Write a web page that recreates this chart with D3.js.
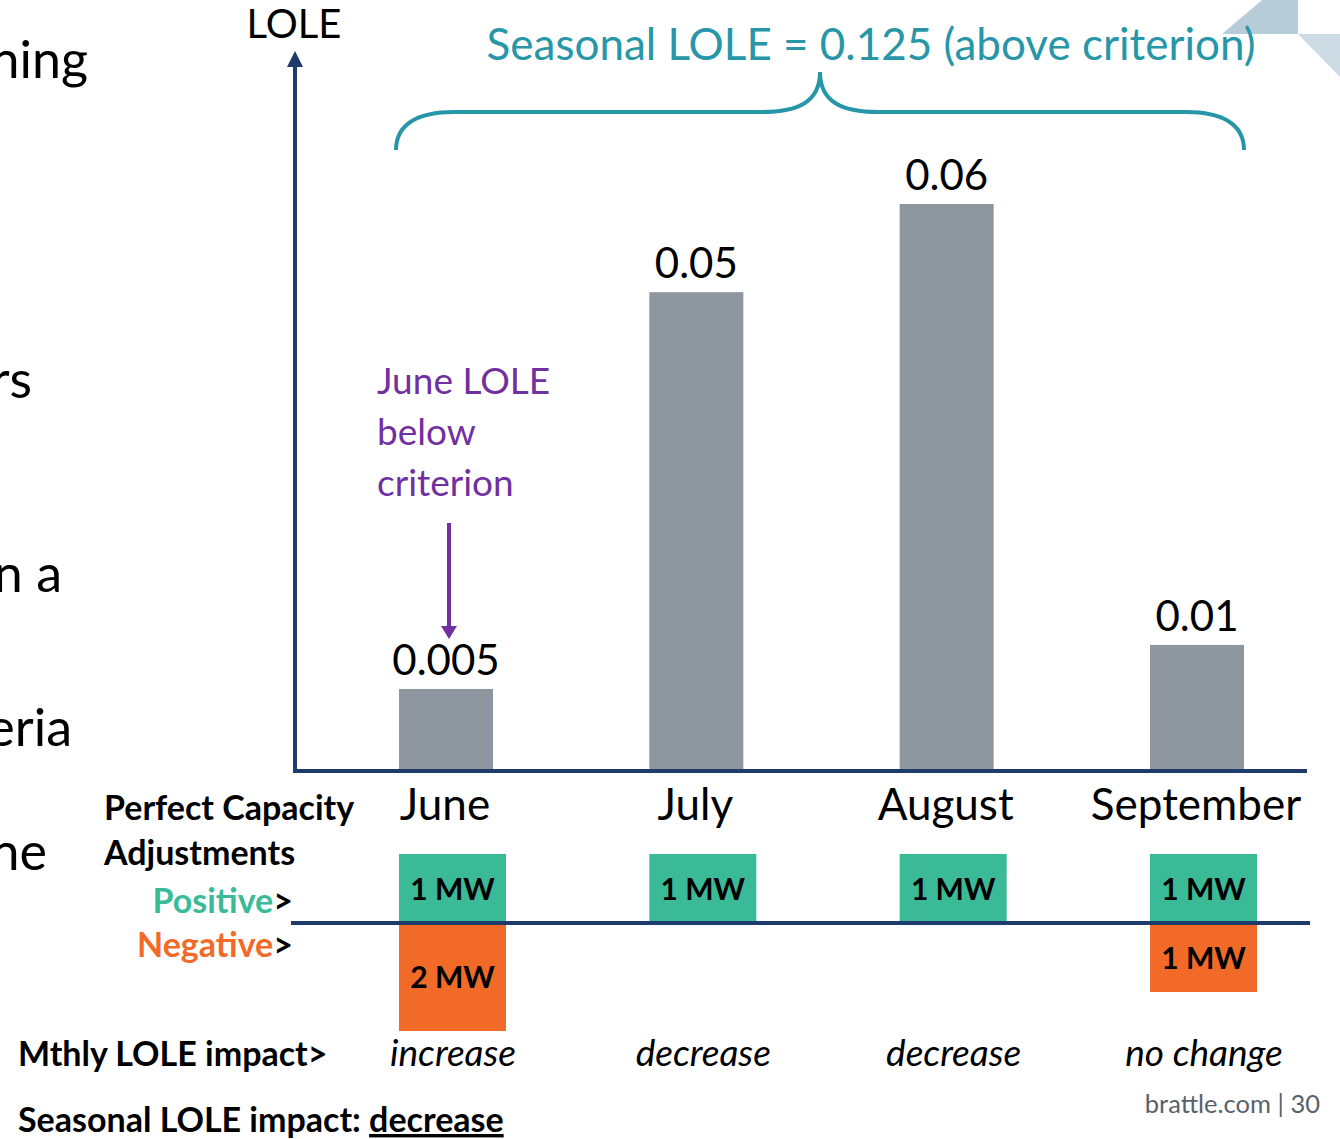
<!DOCTYPE html>
<html>
<head>
<meta charset="utf-8">
<script src="https://cdn.jsdelivr.net/npm/d3@7"></script>
<style>
  body { margin: 0; background: #fff; }
  svg { display: block; font-family: Lato, "Open Sans", sans-serif; }
</style>
</head>
<body>
<div id="chart-area"></div>
<script>
// chart values
const months = ["June", "July", "August", "September"];
const lole = [0.005, 0.05, 0.06, 0.01];
const positiveMW = [1, 1, 1, 1];
const negativeMW = [2, 0, 0, 1];
const impact = ["increase", "decrease", "decrease", "no change"];
const seasonalLOLE = 0.125;
const seasonalImpact = "decrease";

// slide text cut off at the left edge
const sideText = ["ning", "rs", "n a", "eria", "ne"];
const sideRight = [88, 32, 62, 72, 47];
const sideBase = [78, 398, 592, 746, 870];

const width = 1340, height = 1139;
const navy = "#1f3b6b", teal = "#2796a8", grey = "#8e969f",
    green = "#3bba97", orange = "#f26a28", purple = "#7030a0";

const svg = d3.select("#chart-area")
    .append("svg")
    .attr("width", width)
    .attr("height", height);

svg.append("rect").attr("width", width).attr("height", height).attr("fill", "#fff");

// decoration top right
svg.append("path").attr("d", "M1222,34 L1262,0 L1298,0 L1298,34 Z").attr("fill", "#b7ccd9");
svg.append("path").attr("d", "M1298,34 L1340,34 L1340,77 Z").attr("fill", "#cddbe5");

svg.selectAll("text.side")
    .data(sideText)
    .join("text")
    .attr("class", "side")
    .attr("x", (d, i) => sideRight[i])
    .attr("y", (d, i) => sideBase[i])
    .attr("text-anchor", "end")
    .attr("font-size", 52)
    .attr("fill", "#000")
    .text(d => d);

const baseY = 771;
const barW = 94;

const x = d3.scalePoint().domain(months).range([446, 1197]);
// schematic axis: bars are not quite proportional, fitted linear scale
const y = d3.scaleLinear().domain([-0.0043, 0.06]).range([baseY, 204]);
// MW boxes, illustrative height scale
const mw = d3.scaleLinear().domain([0, 2]).range([30, 108]);

const data = months.map((m, i) => ({month: m, lole: lole[i], pos: positiveMW[i], neg: negativeMW[i], impact: impact[i]}));

// bars
svg.append("g")
    .selectAll("rect")
    .data(data)
    .join("rect")
    .attr("x", d => x(d.month) - barW / 2)
    .attr("y", d => y(d.lole))
    .attr("width", barW)
    .attr("height", d => baseY - y(d.lole))
    .attr("fill", grey);

svg.append("g")
    .selectAll("text")
    .data(data)
    .join("text")
    .attr("x", d => x(d.month))
    .attr("y", d => y(d.lole) - 14)
    .attr("text-anchor", "middle")
    .attr("font-size", 42)
    .text(d => String(d.lole));

// axes
svg.append("line")
    .attr("x1", 293).attr("x2", 1307)
    .attr("y1", baseY).attr("y2", baseY)
    .attr("stroke", navy).attr("stroke-width", 4);
svg.append("line")
    .attr("x1", 295).attr("x2", 295)
    .attr("y1", baseY + 2).attr("y2", 62)
    .attr("stroke", navy).attr("stroke-width", 4);
svg.append("path")
    .attr("d", "M295,51 L303,67 L287,67 Z")
    .attr("fill", navy);
svg.append("text")
    .attr("x", 294).attr("y", 38)
    .attr("text-anchor", "middle")
    .attr("font-size", 40)
    .text("LOLE");

svg.append("g")
    .selectAll("text")
    .data(data)
    .join("text")
    .attr("x", d => x(d.month) - 1)
    .attr("y", 820)
    .attr("text-anchor", "middle")
    .attr("font-size", 44)
    .text(d => d.month);

// brace over all months
const L = x(months[0]) - barW / 2 - 3,
    R = x(months[months.length - 1]) + barW / 2,
    M = (L + R) / 2;
const bp = d3.path();
bp.moveTo(L, 150);
bp.bezierCurveTo(L, 124, L + 22, 112, L + 58, 112);
bp.lineTo(M - 58, 112);
bp.bezierCurveTo(M - 22, 112, M, 102, M, 72);
bp.bezierCurveTo(M, 102, M + 22, 112, M + 58, 112);
bp.lineTo(R - 58, 112);
bp.bezierCurveTo(R - 22, 112, R, 124, R, 150);
svg.append("path")
    .attr("d", bp.toString())
    .attr("fill", "none")
    .attr("stroke", teal)
    .attr("stroke-width", 4);

svg.append("text")
    .attr("x", 871).attr("y", 60)
    .attr("text-anchor", "middle")
    .attr("font-size", 44)
    .attr("fill", teal)
    .text(`Seasonal LOLE = ${seasonalLOLE} (above criterion)`);

// June annotation
const ann = svg.append("g").attr("fill", purple).attr("font-size", 37);
["June LOLE", "below", "criterion"].forEach((t, i) => {
    ann.append("text").attr("x", x(months[0]) - 69).attr("y", 394 + i * 51).text(t);
});
const ax = x(months[0]) + 3;
svg.append("line")
    .attr("x1", ax).attr("x2", ax)
    .attr("y1", 523).attr("y2", 628)
    .attr("stroke", purple).attr("stroke-width", 4);
svg.append("path")
    .attr("d", `M${ax},639 L${ax - 8},626 L${ax + 8},626 Z`)
    .attr("fill", purple);

// capacity adjustments
const divY = 923;
const boxW = 107;
const boxX = d => x(d.month) - barW / 2;

const lab = svg.append("g").attr("font-weight", 700).attr("font-size", 34);
lab.append("text").attr("x", 104).attr("y", 820).text("Perfect Capacity");
lab.append("text").attr("x", 104).attr("y", 865).text("Adjustments");
const pos = lab.append("text").attr("x", 293).attr("y", 913).attr("text-anchor", "end");
pos.append("tspan").attr("fill", green).text("Positive");
pos.append("tspan").text(">");
const neg = lab.append("text").attr("x", 293).attr("y", 957).attr("text-anchor", "end");
neg.append("tspan").attr("fill", orange).text("Negative");
neg.append("tspan").text(">");

const posData = data.filter(d => d.pos > 0);
const negData = data.filter(d => d.neg > 0);

svg.append("g")
    .selectAll("rect")
    .data(posData)
    .join("rect")
    .attr("x", boxX)
    .attr("y", d => divY - mw(d.pos))
    .attr("width", boxW)
    .attr("height", d => mw(d.pos))
    .attr("fill", green);
svg.append("g")
    .selectAll("rect")
    .data(negData)
    .join("rect")
    .attr("x", boxX)
    .attr("y", divY)
    .attr("width", boxW)
    .attr("height", d => mw(d.neg))
    .attr("fill", orange);

svg.append("g")
    .attr("font-weight", 700).attr("font-size", 30).attr("text-anchor", "middle")
    .selectAll("text")
    .data(posData)
    .join("text")
    .attr("x", d => boxX(d) + boxW / 2)
    .attr("y", d => divY - mw(d.pos) / 2 + 11)
    .text(d => d.pos + " MW");
svg.append("g")
    .attr("font-weight", 700).attr("font-size", 30).attr("text-anchor", "middle")
    .selectAll("text")
    .data(negData)
    .join("text")
    .attr("x", d => boxX(d) + boxW / 2)
    .attr("y", d => divY + mw(d.neg) / 2 + 11)
    .text(d => d.neg + " MW");

svg.append("line")
    .attr("x1", 291).attr("x2", 1310)
    .attr("y1", divY).attr("y2", divY)
    .attr("stroke", navy).attr("stroke-width", 4);

// monthly impact
svg.append("text")
    .attr("x", 18).attr("y", 1066)
    .attr("font-weight", 700).attr("font-size", 34)
    .text("Mthly LOLE impact>");
svg.append("g")
    .attr("font-style", "italic").attr("font-size", 37).attr("text-anchor", "middle")
    .selectAll("text")
    .data(data)
    .join("text")
    .attr("x", d => x(d.month) + 7)
    .attr("y", 1066)
    .text(d => d.impact);

const seas = svg.append("text")
    .attr("x", 18).attr("y", 1132)
    .attr("font-weight", 700).attr("font-size", 34);
seas.append("tspan").text("Seasonal LOLE impact: ");
seas.append("tspan").attr("text-decoration", "underline").text(seasonalImpact);

svg.append("text")
    .attr("x", 1320).attr("y", 1113)
    .attr("text-anchor", "end")
    .attr("font-size", 25.5)
    .attr("fill", "#59626b")
    .text("brattle.com | 30");
</script>
</body>
</html>
